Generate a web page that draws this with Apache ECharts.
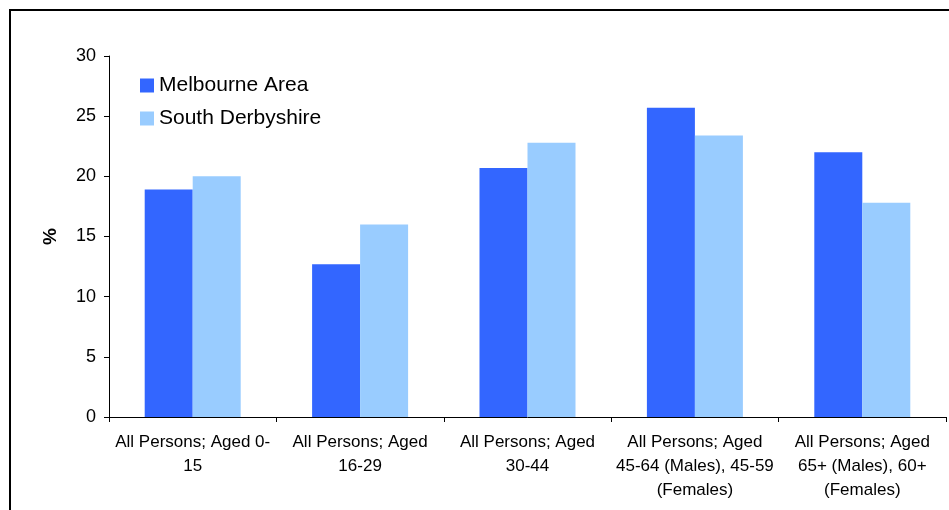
<!DOCTYPE html>
<html>
<head>
<meta charset="utf-8">
<script src="https://cdn.jsdelivr.net/npm/echarts@6/dist/echarts.min.js"></script>
<style>
html,body{margin:0;padding:0;background:#fff;}
#chart{width:949px;height:510px;}
</style>
</head>
<body>
<div id="chart"></div>
<script>
var categories = [
  "All Persons; Aged 0-\n15",
  "All Persons; Aged\n16-29",
  "All Persons; Aged\n30-44",
  "All Persons; Aged\n45-64 (Males), 45-59\n(Females)",
  "All Persons; Aged\n65+ (Males), 60+\n(Females)"
];
var melbourneArea = [18.9, 12.7, 20.7, 25.7, 22.0];
var southDerbyshire = [20.0, 16.0, 22.8, 23.4, 17.8];
var seriesNames = ["Melbourne Area", "South Derbyshire"];

var FONT = "Liberation Sans, Arial, sans-serif";
var chart = echarts.init(document.getElementById('chart'));
chart.setOption({
  backgroundColor: '#fff',
  animation: false,
  graphic: [{
    type: 'rect',
    shape: {x: 10, y: 10, width: 1000, height: 600},
    style: {fill: 'none', stroke: '#000', lineWidth: 2},
    silent: true
  }],
  legend: {
    orient: 'vertical',
    left: 140,
    top: 75,
    padding: 0,
    itemWidth: 14,
    itemHeight: 14,
    itemGap: 12,
    icon: 'rect',
    textStyle: {fontFamily: FONT, fontSize: 21, color: '#000'},
    data: seriesNames
  },
  grid: {left: 109, right: 3, top: 56, bottom: 93, containLabel: false},
  xAxis: {
    type: 'category',
    data: categories,
    axisLine: {lineStyle: {color: '#000', width: 1}},
    axisTick: {show: true, length: 5, lineStyle: {color: '#000'}},
    axisLabel: {interval: 0, fontFamily: FONT, fontSize: 17, lineHeight: 24, color: '#000', margin: 13}
  },
  yAxis: {
    type: 'value',
    min: 0, max: 30, interval: 5,
    name: '%',
    nameLocation: 'middle',
    nameGap: 49,
    nameRotate: 90,
    nameTextStyle: {fontFamily: FONT, fontSize: 19, fontWeight: 'bold', color: '#000'},
    axisLine: {show: true, lineStyle: {color: '#000', width: 1}},
    axisTick: {show: true, length: 5, lineStyle: {color: '#000'}},
    axisLabel: {fontFamily: FONT, fontSize: 18, color: '#000', margin: 13},
    splitLine: {show: false}
  },
  series: [
    {name: seriesNames[0], type: 'bar', data: melbourneArea, barWidth: 48, barGap: '0%',
     itemStyle: {color: '#3366FF'}},
    {name: seriesNames[1], type: 'bar', data: southDerbyshire, barWidth: 48, barGap: '0%',
     itemStyle: {color: '#99CCFF'}}
  ]
});
</script>
</body>
</html>
